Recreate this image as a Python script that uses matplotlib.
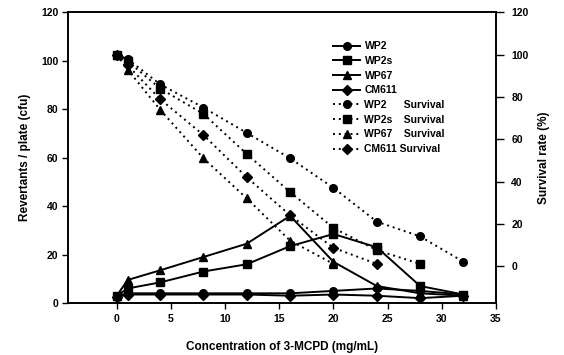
import matplotlib
matplotlib.use("Agg")
import matplotlib.pyplot as plt

plt.rcParams['font.family'] = ['Liberation Sans', 'DejaVu Sans']
plt.rcParams['font.weight'] = 'bold'

# concentrations of 3-MCPD (mg/mL)
conc = [0, 1, 4, 8, 12, 16, 20, 24, 28, 32]

# revertants / plate (cfu)
wp2 = [3, 4, 4, 4, 4, 4, 5, 6, 5, 3.5]
wp2s = [3, 6, 8.5, 13, 16, 23.5, 28.5, 23, 7, 3.5]
wp67 = [3, 9.5, 13.5, 19, 24.5, 36, 17, 7, 4, 3]
cm611 = [2.5, 3.5, 3.5, 3.5, 3.5, 3, 3.5, 3, 2, 3]

# survival rate (%) - series stop when no survivors left
wp2_surv = [100, 98, 86, 75, 63, 51, 37, 21, 14, 2]
wp2s_surv = [100, 97, 84, 72, 53, 35, 18, 7.5, 1]
wp67_surv = [100, 93, 74, 51, 32, 12, 1]
cm611_surv = [100, 95, 79, 62, 42, 24, 8.6, 1]

labels = ["WP2", "WP2s", "WP67", "CM611",
          "WP2      Survival", "WP2s    Survival", "WP67    Survival", "CM611 Survival"]
markers = ["o", "s", "^", "D"]

fig = plt.figure(figsize=(5.64, 3.55), dpi=100)
ax = fig.add_axes([0.1206, 0.1465, 0.7588, 0.8183])
ax2 = ax.twinx()

lw = 1.4
handles = []
for ys, m in zip([wp2, wp2s, wp67, cm611], markers):
    ms = 5 if m == "D" else 5.5
    h, = ax.plot(conc, ys, color="black", lw=lw, marker=m, ms=ms)
    handles.append(h)
for ys, m in zip([wp2_surv, wp2s_surv, wp67_surv, cm611_surv], markers):
    ms = 5 if m == "D" else 5.5
    h, = ax2.plot(conc[:len(ys)], ys, color="black", lw=lw, ls=(0, (1, 2)),
                  marker=m, ms=ms)
    handles.append(h)

ax.set_xlim(-4.5, 35)
ax.set_ylim(0, 120)
ax.set_xticks(range(0, 36, 5))
ax.set_yticks(range(0, 121, 20))
ax2.set_ylim(-17.5, 120)
ax2.set_yticks(range(0, 121, 20))

for a in (ax, ax2):
    a.tick_params(labelsize=7.5, width=1)
    for s in a.spines.values():
        s.set_linewidth(1.2)
ax.tick_params(axis="x", length=4, pad=4)
ax.tick_params(axis="y", length=4, pad=3)
ax2.tick_params(axis="y", length=6, pad=5)

ax.set_xlabel("Concentration of 3-MCPD (mg/mL)", fontsize=8.5, fontweight="bold", labelpad=12)
ax.set_ylabel("Revertants / plate (cfu)", fontsize=8.5, fontweight="bold", labelpad=7)
ax2.set_ylabel("Survival rate (%)", fontsize=8.5, fontweight="bold", labelpad=7)

ax2.legend(handles, labels, loc="upper left", bbox_to_anchor=(0.61, 0.915),
           frameon=False, fontsize=7.5, handlelength=2.6, labelspacing=0.45,
           handletextpad=0.4, borderaxespad=0)

fig.savefig("out.png", dpi=100)
